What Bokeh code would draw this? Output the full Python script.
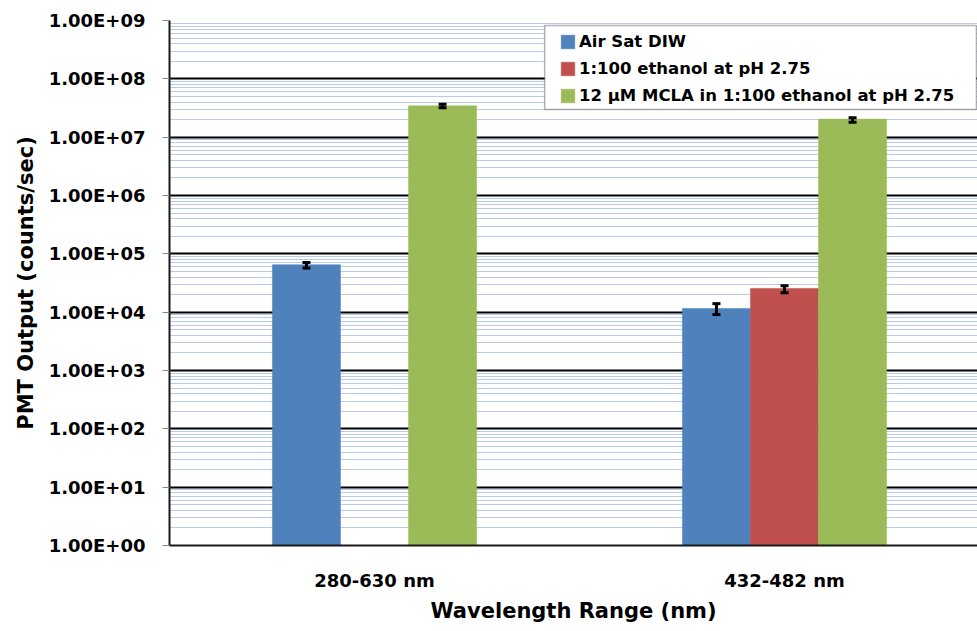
from bokeh.plotting import figure
from bokeh.models import (ColumnDataSource, Range1d, FixedTicker, Whisker, TeeHead,
                          Legend, LegendItem, BoxAnnotation)
from bokeh.embed import file_html
from bokeh.resources import INLINE

NAN = float("nan")

# ---- data ----
categories = ["280-630 nm", "432-482 nm"]
series_names = ["Air Sat DIW", "1:100 ethanol at pH 2.75",
                "12 \u00b5M MCLA in 1:100 ethanol at pH 2.75"]
air_sat_diw = [6.5e4, 1.16e4]
ethanol_ph275 = [NAN, 2.55e4]
mcla_ethanol = [3.44e7, 2.04e7]
air_sat_diw_lo = [5.7e4, 9.1e3]
air_sat_diw_hi = [7.1e4, 1.40e4]
ethanol_ph275_lo = [NAN, 2.15e4]
ethanol_ph275_hi = [NAN, 2.84e4]
mcla_ethanol_lo = [3.18e7, 1.81e7]
mcla_ethanol_hi = [3.68e7, 2.15e7]
y_ticks = [1e0, 1e1, 1e2, 1e3, 1e4, 1e5, 1e6, 1e7, 1e8, 1e9]
y_tick_labels = ["1.00E+00", "1.00E+01", "1.00E+02", "1.00E+03", "1.00E+04",
                 "1.00E+05", "1.00E+06", "1.00E+07", "1.00E+08", "1.00E+09"]

colors = ["#4F81BD", "#C0504D", "#9BBB59"]
FONT = "DejaVu Sans"

values = [air_sat_diw, ethanol_ph275, mcla_ethanol]
lows = [air_sat_diw_lo, ethanol_ph275_lo, mcla_ethanol_lo]
highs = [air_sat_diw_hi, ethanol_ph275_hi, mcla_ethanol_hi]

bar_w = 0.166
offsets = [-bar_w, 0.0, bar_w]
centers = [i + 0.5 for i in range(len(categories))]

p = figure(width=977, height=631, y_axis_type="log",
           x_range=Range1d(0, 1.9707), y_range=Range1d(1, 1e9),
           output_backend="svg", toolbar_location=None,
           min_border_left=169, min_border_right=0,
           min_border_top=20, min_border_bottom=86)
p.outline_line_color = None
p.background_fill_color = "white"
p.border_fill_color = "white"

# y axis / grid
minor = [m * t for t in y_ticks[:-1] for m in range(2, 10)]
yt = FixedTicker(ticks=y_ticks, minor_ticks=minor)
p.yaxis.ticker = yt
p.ygrid.ticker = yt
p.yaxis.major_label_overrides = {t: l for t, l in zip(y_ticks, y_tick_labels)}
p.ygrid.grid_line_color = "black"
p.ygrid.grid_line_width = 2
p.ygrid.minor_grid_line_color = "#B8CBE8"
p.ygrid.minor_grid_line_width = 1
p.xgrid.visible = False

p.yaxis.axis_line_color = "#1a1a1a"
p.yaxis.axis_line_width = 2
p.yaxis.major_tick_in = 0
p.yaxis.major_tick_out = 7
p.yaxis.major_tick_line_color = "#868686"
p.yaxis.minor_tick_line_color = None
p.yaxis.major_label_standoff = 17
p.yaxis.major_label_text_font = FONT
p.yaxis.major_label_text_font_style = "bold"
p.yaxis.major_label_text_font_size = "18px"
p.yaxis.major_label_text_color = "black"
p.yaxis.axis_label = "PMT Output (counts/sec)"
p.yaxis.axis_label_text_font = FONT
p.yaxis.axis_label_text_font_style = "bold"
p.yaxis.axis_label_text_font_size = "21px"
p.yaxis.axis_label_text_color = "black"
p.yaxis.axis_label_standoff = 8

# x axis
p.xaxis.ticker = FixedTicker(ticks=centers)
p.xaxis.major_label_overrides = {c: n for c, n in zip(centers, categories)}
p.xaxis.axis_line_color = "#1a1a1a"
p.xaxis.axis_line_width = 2
p.xaxis.major_tick_in = 0
p.xaxis.major_tick_out = 0
p.xaxis.minor_tick_line_color = None
p.xaxis.major_label_standoff = 24
p.xaxis.major_label_text_font = FONT
p.xaxis.major_label_text_font_style = "bold"
p.xaxis.major_label_text_font_size = "18px"
p.xaxis.major_label_text_color = "black"
p.xaxis.axis_label = "Wavelength Range (nm)"
p.xaxis.axis_label_text_font = FONT
p.xaxis.axis_label_text_font_style = "bold"
p.xaxis.axis_label_text_font_size = "21px"
p.xaxis.axis_label_text_color = "black"
p.xaxis.axis_label_standoff = 5

renderers = []
for k, (vals, lo, hi) in enumerate(zip(values, lows, highs)):
    xs = [c + offsets[k] for c in centers]
    src = ColumnDataSource(dict(x=xs, top=vals))
    r = p.vbar(x="x", top="top", bottom=1, width=bar_w, source=src,
               fill_color=colors[k], line_color=colors[k], line_width=0.5)
    renderers.append(r)
    keep = [i for i, v in enumerate(vals) if v == v]
    wsrc = ColumnDataSource(dict(x=[xs[i] for i in keep],
                                 lo=[lo[i] for i in keep],
                                 hi=[hi[i] for i in keep]))
    w = Whisker(source=wsrc, base="x", lower="lo", upper="hi",
                line_color="black", line_width=3, level="annotation",
                upper_head=TeeHead(size=8, line_width=3, line_color="black"),
                lower_head=TeeHead(size=8, line_width=3, line_color="black"))
    p.add_layout(w)

# legend frame
box = BoxAnnotation(left=0.915, right=1.968, top=8.2e8, bottom=2.98e7,
                    fill_color="white", fill_alpha=1.0,
                    line_color="black", line_width=1.5, level="annotation")
p.add_layout(box)

legend = Legend(items=[LegendItem(label=n, renderers=[r]) for n, r in zip(series_names, renderers)],
                location=(390, 440), padding=5, spacing=7,
                glyph_width=17, glyph_height=17, label_height=20, label_standoff=3,
                label_text_font=FONT, label_text_font_style="bold",
                label_text_font_size="16.5px", label_text_color="black",
                border_line_color=None, background_fill_alpha=0.0, margin=0)
p.add_layout(legend, "center")

open("out.html", "w").write(file_html(p, INLINE))
